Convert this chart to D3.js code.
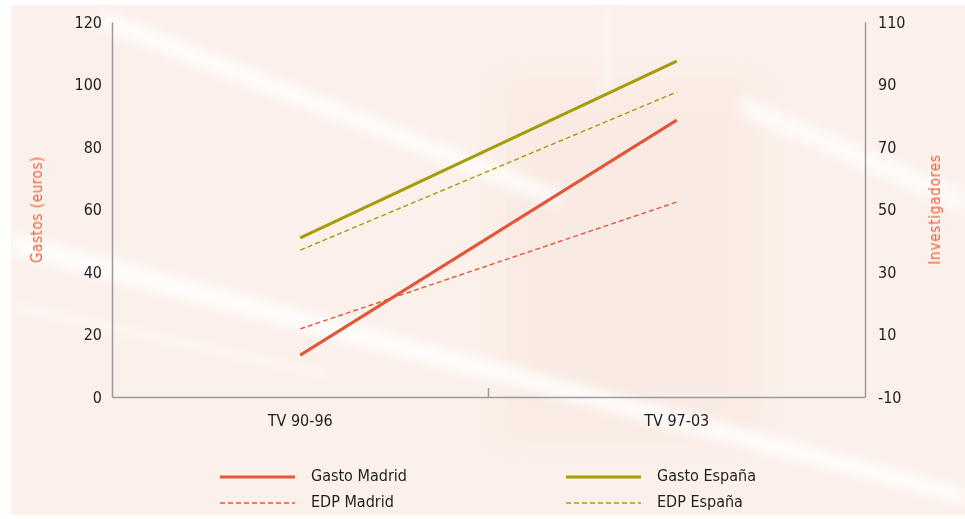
<!DOCTYPE html>
<html>
<head>
<meta charset="utf-8">
<script src="https://cdn.jsdelivr.net/npm/d3@7/dist/d3.min.js"></script>
<style>
  body { margin: 0; background: #fff; }
  svg { display: block; font-family: "DejaVu Sans Condensed", "DejaVu Sans", sans-serif; }
</style>
</head>
<body>
<div id="chart"></div>
<script>
// data
const categories = ['TV 90-96', 'TV 97-03'];
const gastoMadrid = [13.4, 88.6];
const gastoEspana = [50.9, 107.5];
const edpMadrid = [11.8, 52.4];   // right axis (investigadores)
const edpEspana = [37.0, 87.6];   // right axis
const leftTicks = [0, 20, 40, 60, 80, 100, 120];
const rightTicks = [-10, 10, 30, 50, 70, 90, 110];

const W = 965, H = 519;
const margin = { top: 22, right: 100, bottom: 122, left: 112 };
const orange = '#e0573a', olive = '#a49c08';

const svg = d3.select('#chart').append('svg')
    .attr('width', W)
    .attr('height', H);

// background, soft photo-like texture
const defs = svg.append('defs');
defs.append('filter').attr('id', 'blur')
    .attr('x', '-20%').attr('y', '-20%').attr('width', '140%').attr('height', '140%')
    .append('feGaussianBlur').attr('stdDeviation', 6);
defs.append('filter').attr('id', 'blur2')
    .attr('x', '-20%').attr('y', '-20%').attr('width', '140%').attr('height', '140%')
    .append('feGaussianBlur').attr('stdDeviation', 14);

svg.append('rect')
    .attr('x', 11).attr('y', 5).attr('width', W - 11).attr('height', H - 9)
    .attr('fill', '#fbf0ea');

svg.append('rect').attr('x', 500).attr('y', 80).attr('width', 260).attr('height', 360)
    .attr('fill', '#f8e6dd').attr('opacity', 0.5).attr('filter', 'url(#blur2)');

const bg = svg.append('g').attr('filter', 'url(#blur)');
bg.append('path').attr('d', 'M100,8 L560,190 L560,208 L100,30 Z').attr('fill', '#fff').attr('opacity', 0.75);
bg.append('path').attr('d', 'M740,95 L965,190 L965,215 L740,115 Z').attr('fill', '#fff').attr('opacity', 0.7);
bg.append('path').attr('d', 'M11,232 L965,488 L965,505 L11,255 Z').attr('fill', '#fff').attr('opacity', 0.8);
bg.append('path').attr('d', 'M11,300 L330,370 L330,380 L11,312 Z').attr('fill', '#fff').attr('opacity', 0.4);
bg.append('rect').attr('x', 604).attr('y', 5).attr('width', 6).attr('height', 95).attr('fill', '#fff').attr('opacity', 0.6);

// scales
const x = d3.scaleBand().domain(categories).range([margin.left, W - margin.right]).padding(0);
const yL = d3.scaleLinear().domain([0, 120]).range([H - margin.bottom, margin.top]);
const yR = d3.scaleLinear().domain([-10, 110]).range([H - margin.bottom, margin.top]);

const axisColor = '#9c9c9c';
const plain = d => String(d);

// axes
const gL = svg.append('g')
    .attr('transform', `translate(${margin.left},0)`)
    .call(d3.axisLeft(yL).tickValues(leftTicks).tickFormat(plain).tickSize(0).tickPadding(10));
const gR = svg.append('g')
    .attr('transform', `translate(${W - margin.right},0)`)
    .call(d3.axisRight(yR).tickValues(rightTicks).tickFormat(plain).tickSize(0).tickPadding(13));
const gB = svg.append('g')
    .attr('transform', `translate(0,${H - margin.bottom})`)
    .call(d3.axisBottom(x).tickSize(0).tickPadding(18));

[gL, gR, gB].forEach(g => {
    g.select('.domain').attr('stroke', axisColor).attr('stroke-width', 1.5);
    g.selectAll('text').attr('fill', '#1e1e1e').style('font-size', '16px')
        .style('font-family', '"DejaVu Sans Condensed", "DejaVu Sans", sans-serif');
});

// divider tick between categories
svg.append('line')
    .attr('x1', x(categories[1])).attr('x2', x(categories[1]))
    .attr('y1', H - margin.bottom).attr('y2', H - margin.bottom - 9)
    .attr('stroke', axisColor).attr('stroke-width', 1.5);

// axis titles
svg.append('text')
    .attr('transform', `translate(42,${(yL(120) + yL(0)) / 2}) rotate(-90)`)
    .attr('text-anchor', 'middle')
    .attr('fill', '#e8643f')
    .style('font-size', '15px')
    .style('letter-spacing', '0.6px')
    .text('Gastos (euros)');

svg.append('text')
    .attr('transform', `translate(940,${(yR(110) + yR(-10)) / 2}) rotate(-90)`)
    .attr('text-anchor', 'middle')
    .attr('fill', '#e8643f')
    .style('font-size', '15px')
    .style('letter-spacing', '0.8px')
    .text('Investigadores');

// lines
const cx = c => x(c) + x.bandwidth() / 2;
const series = [
    { name: 'EDP España', values: edpEspana, scale: yR, color: olive, dashed: true },
    { name: 'EDP Madrid', values: edpMadrid, scale: yR, color: orange, dashed: true },
    { name: 'Gasto España', values: gastoEspana, scale: yL, color: olive, dashed: false },
    { name: 'Gasto Madrid', values: gastoMadrid, scale: yL, color: orange, dashed: false }
];

series.forEach(s => {
    const line = d3.line()
        .x((d, i) => cx(categories[i]))
        .y(d => s.scale(d));
    svg.append('path')
        .datum(s.values)
        .attr('d', line)
        .attr('fill', 'none')
        .attr('stroke', s.color)
        .attr('stroke-width', s.dashed ? 1.4 : 3)
        .attr('stroke-dasharray', s.dashed ? '5,3' : null);
});

// legend
const legendItems = [
    { name: 'Gasto Madrid', color: orange, dashed: false, x: 220, y: 477 },
    { name: 'EDP Madrid', color: orange, dashed: true, x: 220, y: 503 },
    { name: 'Gasto España', color: olive, dashed: false, x: 566, y: 477 },
    { name: 'EDP España', color: olive, dashed: true, x: 566, y: 503 }
];

const leg = svg.selectAll('.legend')
    .data(legendItems)
    .enter()
    .append('g')
    .attr('class', 'legend')
    .attr('transform', d => `translate(${d.x},${d.y})`);

leg.append('line')
    .attr('x1', 0).attr('x2', 75)
    .attr('stroke', d => d.color)
    .attr('stroke-width', d => d.dashed ? 1.4 : 3)
    .attr('stroke-dasharray', d => d.dashed ? '5,3' : null);

leg.append('text')
    .attr('x', 91)
    .attr('y', 4)
    .attr('fill', '#1e1e1e')
    .style('font-size', '16px')
    .text(d => d.name);
</script>
</body>
</html>
